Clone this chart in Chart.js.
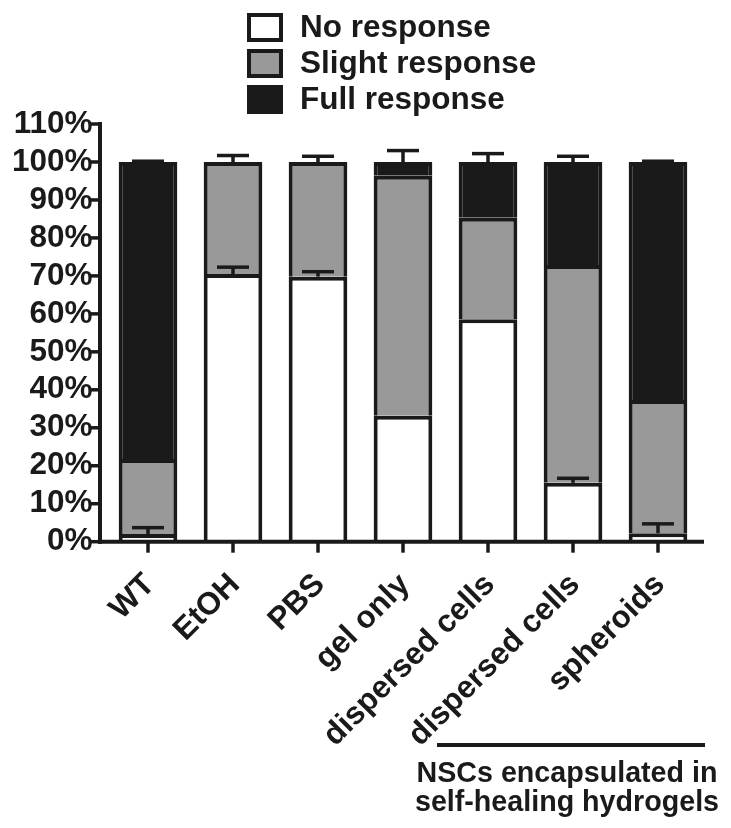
<!DOCTYPE html>
<html>
<head>
<meta charset="utf-8">
<script src="https://cdn.jsdelivr.net/npm/chart.js@4/dist/chart.umd.min.js"></script>
<style>
  html, body { margin: 0; padding: 0; background: #ffffff; }
  #wrap { width: 731px; height: 828px; }
</style>
</head>
<body>
<div id="wrap"><canvas id="c" width="731" height="828"></canvas></div>
<script>
// Behavioural response per treatment group (% of animals)
const categories = ['WT', 'EtOH', 'PBS', 'gel only', 'dispersed cells', 'dispersed cells', 'spheroids'];
const noResponse     = [2.0, 70.5, 69.8, 33.2, 58.6, 15.5, 2.2];
const slightResponse = [19.8, 29.5, 30.2, 63.2, 26.7, 57.4, 35.1];
const fullResponse   = [78.2, 0, 0, 3.6, 14.7, 27.1, 62.7];
// upward error bars (SEM): on the "no response" segment and on the stack total
const noResponseErr = [1.7, 1.8, 1.3, 0, 0, 1.2, 2.5];
const totalErr      = [0.2, 1.7, 1.5, 3.0, 2.2, 1.5, 0.2];
const yTickValues = [0, 10, 20, 30, 40, 50, 60, 70, 80, 90, 100, 110];
const seriesNames = ['No response', 'Slight response', 'Full response'];
const groupNote = ['NSCs encapsulated in', 'self-healing hydrogels'];

const INK = '#1a1a1a';
const GREY = '#999999';
const FONT = '"Liberation Sans", Arial, Helvetica, sans-serif';

const decor = {
  id: 'decor',
  afterDatasetsDraw(chart) {
    const { ctx, chartArea, scales: { x, y } } = chart;
    const seg = (x1, y1, x2, y2) => { ctx.beginPath(); ctx.moveTo(x1, y1); ctx.lineTo(x2, y2); ctx.stroke(); };
    ctx.save();
    ctx.strokeStyle = INK;
    ctx.lineCap = 'butt';

    // error bars, drawn upward only
    ctx.lineWidth = 3.5;
    categories.forEach((c, i) => {
      const cx = x.getPixelForValue(i);
      const total = noResponse[i] + slightResponse[i] + fullResponse[i];
      [[noResponse[i], noResponseErr[i]], [total, totalErr[i]]].forEach(([v, e]) => {
        if (e <= 0) return;
        const yb = y.getPixelForValue(v), yt = y.getPixelForValue(v + e);
        seg(cx, yb, cx, yt);
        seg(cx - 16, yt, cx + 16, yt);
      });
    });

    // axes
    ctx.lineWidth = 4;
    const ax = chartArea.left - 5.5;
    const y0 = y.getPixelForValue(0);
    seg(ax, y.getPixelForValue(110) - 2, ax, y0 + 2);
    seg(ax - 2, y0, chartArea.right + 3.5, y0);
    ctx.lineWidth = 3.5;
    yTickValues.forEach(v => { const py = y.getPixelForValue(v); seg(ax - 9, py, ax, py); });
    categories.forEach((c, i) => { const px = x.getPixelForValue(i); seg(px, y0, px, y0 + 11); });
    ctx.restore();
  },
  afterDraw(chart) {
    const { ctx } = chart;
    ctx.save();
    // legend
    const fills = chart.data.datasets.map(d => d.backgroundColor);
    ctx.font = 'bold 31.5px ' + FONT;
    ctx.textBaseline = 'middle';
    ctx.textAlign = 'left';
    ctx.fillStyle = INK;
    chart.data.datasets.forEach((d, i) => {
      const top = 13 + i * 36;
      ctx.fillStyle = fills[i];
      ctx.fillRect(247, top, 36, 29);
      ctx.lineWidth = 4;
      ctx.strokeStyle = INK;
      ctx.strokeRect(249, top + 2, 32, 25);
      ctx.fillStyle = INK;
      ctx.fillText(d.label, 300, top + 15);
    });

    // group bracket under the hydrogel conditions
    ctx.lineWidth = 4;
    ctx.beginPath(); ctx.moveTo(437, 745); ctx.lineTo(705, 745); ctx.stroke();
    ctx.font = 'bold 30px ' + FONT;
    ctx.textAlign = 'center';
    ctx.translate(567, 0);
    ctx.scale(0.955, 1);
    ctx.fillText(groupNote[0], 0, 774);
    ctx.fillText(groupNote[1], 0, 803);
    ctx.restore();
  }
};

const mk = (label, data, color) => ({
  label, data,
  backgroundColor: color,
  borderColor: INK,
  borderWidth: 4,
  borderSkipped: 'start',
  barPercentage: 0.69,
  categoryPercentage: 1.0
});

new Chart(document.getElementById('c'), {
  type: 'bar',
  data: {
    labels: categories,
    datasets: [
      mk(seriesNames[0], noResponse, '#ffffff'),
      mk(seriesNames[1], slightResponse, GREY),
      mk(seriesNames[2], fullResponse, INK)
    ]
  },
  options: {
    responsive: false,
    devicePixelRatio: 1,
    animation: false,
    layout: { padding: { top: 124, right: 30.5, bottom: 0, left: 0 } },
    plugins: { legend: { display: false }, tooltip: { enabled: false } },
    scales: {
      x: {
        stacked: true,
        grid: { display: false, drawTicks: false },
        border: { display: false },
        afterFit: s => { s.height = 828 - 541.7; },
        ticks: {
          autoSkip: false,
          minRotation: 45,
          maxRotation: 45,
          padding: 27,
          labelOffset: 2,
          color: INK,
          font: { family: FONT, size: 31.5, weight: 'bold', lineHeight: 1.0 }
        }
      },
      y: {
        stacked: true,
        min: 0,
        max: 110,
        grid: { display: false, drawTicks: false },
        border: { display: false },
        afterFit: s => { s.width = 105.5; },
        afterBuildTicks: s => { s.ticks = yTickValues.map(v => ({ value: v })); },
        ticks: {
          autoSkip: false,
          padding: 13,
          color: INK,
          callback: v => v + '%',
          font: { family: FONT, size: 31.5, weight: 'bold' }
        }
      }
    }
  },
  plugins: [decor]
});
</script>
</body>
</html>
